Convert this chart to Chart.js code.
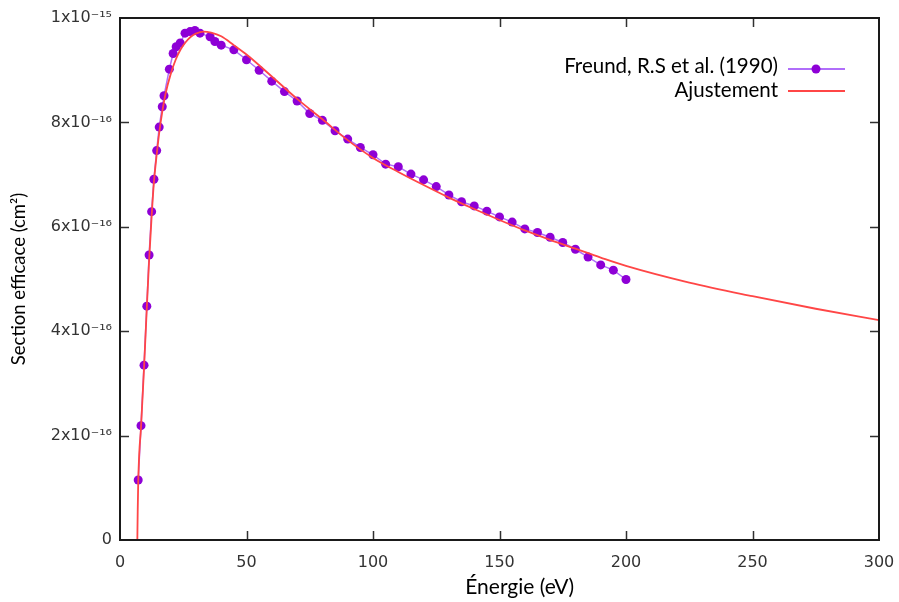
<!DOCTYPE html>
<html>
<head>
<meta charset="utf-8">
<script src="https://cdn.jsdelivr.net/npm/chart.js@4/dist/chart.umd.min.js"></script>
<style>
  html, body { margin: 0; padding: 0; background: #ffffff; }
  #wrap { width: 899px; height: 602px; }
</style>
</head>
<body>
<div id="wrap"><canvas id="c" width="899" height="602"></canvas></div>
<script>
// ---- Data (cross section in units of 1e-16 cm²) ----
const UNIT = 1e-16;

const freundEnergy = [7.2, 8.3, 9.5, 10.6, 11.5, 12.5, 13.4, 14.5, 15.5, 16.7, 17.4, 19.5, 21, 22.2, 23.8,
  25.7, 27.7, 29.6, 31.6, 35.6, 37.5, 40,
  45, 50, 55, 60, 65, 70, 75, 80, 85, 90, 95, 100, 105, 110, 115, 120, 125, 130, 135, 140,
  145, 150, 155, 160, 165, 170, 175, 180, 185, 190, 195, 200];
const freundSigma = [1.15, 2.19, 3.35, 4.48, 5.46, 6.29, 6.91, 7.46, 7.91, 8.30, 8.51, 9.02, 9.32, 9.45, 9.52,
  9.71, 9.74, 9.76, 9.71, 9.64, 9.55, 9.48,
  9.39, 9.20, 9.00, 8.79, 8.59, 8.41, 8.17, 8.04, 7.84, 7.68, 7.52, 7.38, 7.20, 7.15, 7.01, 6.90, 6.77, 6.61, 6.48, 6.40,
  6.30, 6.19, 6.09, 5.96, 5.89, 5.80, 5.70, 5.57, 5.42, 5.27, 5.17, 4.99];

const fitEnergy = [6.85, 7.0, 7.2, 7.6, 8.3, 9.5, 10.6, 11.5, 12.5, 13.4, 14.5, 15.5, 16.7, 18, 20, 22, 24, 26, 28, 30,
  33, 36, 40, 45, 50, 60, 70, 80, 90, 100, 110, 120, 130, 140, 150, 160, 170, 180, 190, 200, 225, 250, 275, 300];
const fitSigma = [0, 0.55, 1.1, 1.65, 2.15, 3.3, 4.45, 5.35, 6.2, 6.85, 7.38, 7.8, 8.2, 8.55, 8.92, 9.2, 9.4, 9.54, 9.64, 9.7,
  9.74, 9.72, 9.65, 9.48, 9.30, 8.88, 8.45, 8.06, 7.66, 7.32, 7.05, 6.80, 6.56, 6.34, 6.13, 5.93, 5.75, 5.58, 5.41, 5.25,
  4.93, 4.67, 4.43, 4.21];

const xTickValues = [0, 50, 100, 150, 200, 250, 300];
const yTickValues = [0, 2e-16, 4e-16, 6e-16, 8e-16, 1e-15];
const yTickLabels = ['0', '2x10\u207B\u00B9\u2076', '4x10\u207B\u00B9\u2076', '6x10\u207B\u00B9\u2076', '8x10\u207B\u00B9\u2076', '1x10\u207B\u00B9\u2075'];

const seriesNames = ['Freund, R.S et al. (1990)', 'Ajustement'];
const xTitle = '\u00C9nergie (eV)';
const yTitle = 'Section efficace (cm\u00B2)';

// ---- styles ----
const PURPLE = 'rgb(142, 0, 214)';
const PURPLE_LINE = 'rgb(176, 110, 250)';
const RED = 'rgb(255, 70, 70)';
const TICK_FONT = { family: 'DejaVu Sans', size: 16 };
const TEXT_FONT_FAMILY = 'Lato';

const freundPts = freundEnergy.map((e, i) => ({ x: e, y: freundSigma[i] * UNIT }));
const fitPts = fitEnergy.map((e, i) => ({ x: e, y: fitSigma[i] * UNIT }));

const frameTicks = {
  id: 'frameTicks',
  afterDraw(chart) {
    const { ctx, chartArea: a, scales } = chart;
    ctx.save();
    ctx.strokeStyle = '#303030';
    ctx.lineWidth = 1.5;
    ctx.beginPath();
    xTickValues.forEach(v => {
      const px = Math.round(scales.x.getPixelForValue(v)) + 0.5;
      if (v === 0 || v === 300) return;
      ctx.moveTo(px, a.bottom); ctx.lineTo(px, a.bottom - 9);
      ctx.moveTo(px, a.top); ctx.lineTo(px, a.top + 9);
    });
    yTickValues.forEach((v, i) => {
      if (i === 0 || i === yTickValues.length - 1) return;
      const py = Math.round(scales.y.getPixelForValue(v)) + 0.5;
      ctx.moveTo(a.left, py); ctx.lineTo(a.left + 9, py);
      ctx.moveTo(a.right, py); ctx.lineTo(a.right - 9, py);
    });
    ctx.stroke();
    ctx.strokeStyle = '#1a1a1a';
    ctx.lineWidth = 2;
    ctx.strokeRect(a.left, a.top, a.right - a.left, a.bottom - a.top);

    // x axis title (slightly right of the plot centre, as in the reference)
    ctx.font = '21px ' + TEXT_FONT_FAMILY;
    ctx.fillStyle = '#000';
    ctx.textAlign = 'center';
    ctx.textBaseline = 'middle';
    ctx.fillText(xTitle, scales.x.getPixelForValue(158), 587);

    // legend (gnuplot style: text right-aligned, sample to the right)
    const tx = a.right - 101;
    const rows = [69, 91];
    ctx.font = '20.5px ' + TEXT_FONT_FAMILY;
    ctx.textAlign = 'right';
    ctx.fillText(seriesNames[0], tx, rows[0] - 3);
    ctx.fillText(seriesNames[1], tx, rows[1] - 1);
    ctx.lineWidth = 2;
    ctx.strokeStyle = PURPLE_LINE;
    ctx.beginPath(); ctx.moveTo(tx + 10, rows[0]); ctx.lineTo(tx + 67, rows[0]); ctx.stroke();
    ctx.fillStyle = PURPLE;
    ctx.beginPath(); ctx.arc(tx + 38, rows[0], 4.5, 0, Math.PI * 2); ctx.fill();
    ctx.strokeStyle = RED;
    ctx.beginPath(); ctx.moveTo(tx + 10, rows[1]); ctx.lineTo(tx + 67, rows[1]); ctx.stroke();
    ctx.restore();
  }
};

new Chart(document.getElementById('c'), {
  type: 'scatter',
  data: {
    datasets: [
      {
        label: seriesNames[0],
        data: freundPts,
        showLine: true,
        borderColor: PURPLE_LINE,
        borderWidth: 1.5,
        backgroundColor: PURPLE,
        pointBackgroundColor: PURPLE,
        pointBorderColor: PURPLE,
        pointRadius: 4.5,
        pointBorderWidth: 0,
        order: 1
      },
      {
        label: seriesNames[1],
        data: fitPts,
        showLine: true,
        borderColor: RED,
        borderWidth: 1.8,
        pointRadius: 0,
        cubicInterpolationMode: 'monotone',
        order: 0
      }
    ]
  },
  options: {
    responsive: false,
    animation: false,
    events: [],
    layout: { padding: { left: 0, right: 20, top: 18, bottom: 0 } },
    plugins: { legend: { display: false }, tooltip: { enabled: false } },
    scales: {
      x: {
        type: 'linear', min: 0, max: 300,
        afterBuildTicks: s => { s.ticks = xTickValues.map(v => ({ value: v })); },
        afterFit: s => { s.height = 62; s.paddingRight = 0; s.paddingLeft = 0; },
        grid: { display: false, drawTicks: false },
        border: { display: false },
        ticks: { font: TICK_FONT, color: '#333', padding: 13, maxRotation: 0 },
        title: { display: false }
      },
      y: {
        type: 'linear', min: 0, max: 1e-15,
        afterBuildTicks: s => { s.ticks = yTickValues.map(v => ({ value: v })); },
        afterFit: s => { s.width = 120; s.paddingTop = 0; s.paddingBottom = 0; },
        grid: { display: false, drawTicks: false },
        border: { display: false },
        ticks: { font: TICK_FONT, color: '#333', padding: 8, callback: (v, i) => yTickLabels[i] },
        title: { display: true, text: yTitle, font: { family: TEXT_FONT_FAMILY, size: 18.5 }, color: '#000', padding: { top: 8, bottom: 0 } }
      }
    }
  },
  plugins: [frameTicks]
});
</script>
</body>
</html>
